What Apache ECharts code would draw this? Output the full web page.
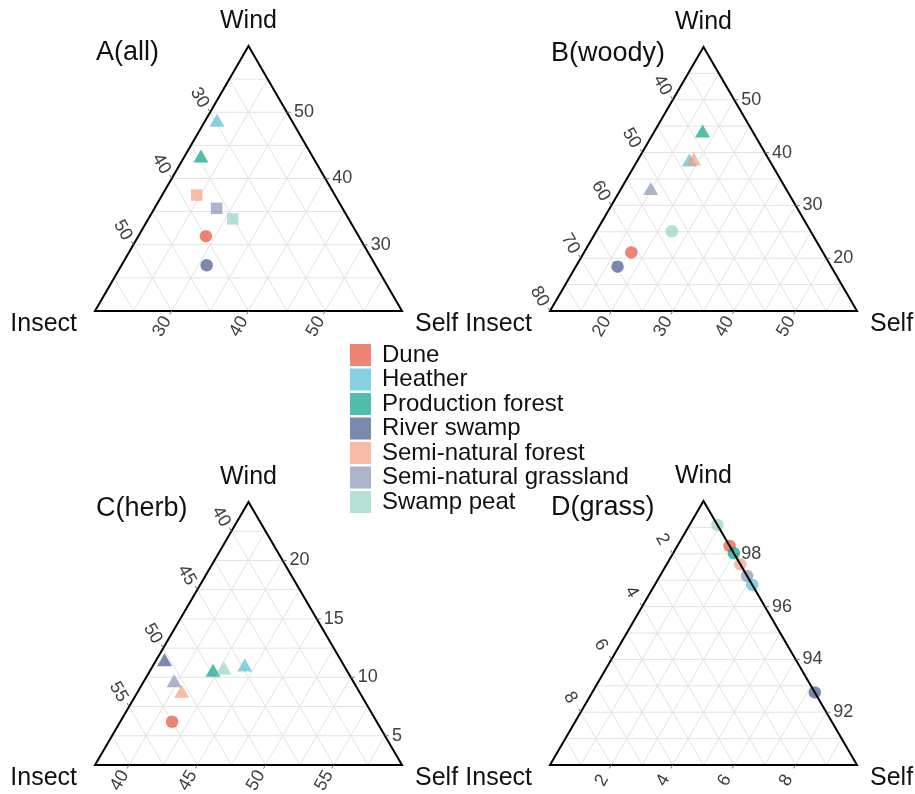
<!DOCTYPE html>
<html>
<head>
<meta charset="utf-8">
<script src="https://cdn.jsdelivr.net/npm/echarts@6/dist/echarts.min.js"></script>
<style>
html,body{margin:0;padding:0;background:#fff;}
#c{width:915px;height:794px;}
</style>
</head>
<body>
<div id="c"></div>
<script>
// ---------------- data ----------------
const habitats = ["Dune","Heather","Production forest","River swamp","Semi-natural forest","Semi-natural grassland","Swamp peat"];
const habitatColors = ["#E64B35","#4DBBD5","#00A087","#3C5488","#F39B7F","#8491B4","#91D1C2"];

// A(all)  : Wind / Insect / Self (%), one value per habitat
const windA   = [31.3, 48.8, 43.4, 26.9, 37.5, 35.5, 33.9];
const insectA = [39.9, 29.7, 34.5, 42.0, 38.0, 36.4, 35.1];
const selfA   = [28.8, 21.5, 22.1, 31.1, 24.5, 28.1, 31.0];
const shapeA  = ["circle","triangle","triangle","circle","rect","rect","rect"];
const limitsA = [20, 20, 20, 40];           // wind min, insect min, self min, span
const windTicksA = [30, 40, 50];
const insectTicksA = [30, 40, 50];
const selfTicksA = [30, 40, 50];

// B(woody)
const windB   = [21.1, 38.6, 44.1, 18.4, 38.8, 33.2, 25.1];
const insectB = [61.2, 43.0, 38.1, 64.8, 42.2, 52.0, 52.6];
const selfB   = [17.7, 18.4, 17.8, 16.8, 19.0, 14.8, 22.3];
const shapeB  = ["circle","triangle","triangle","circle","triangle","triangle","circle"];
const limitsB = [10, 30, 10, 50];
const windTicksB = [20, 30, 40, 50];
const insectTicksB = [40, 50, 60, 70, 80];
const selfTicksB = [20, 30, 40, 50];

// C(herb)
const windC   = [6.2, 11.05, 10.6, 11.5, 8.8, 9.7, 10.8];
const insectC = [52.5, 44.75, 47.3, 50.4, 50.5, 50.6, 46.4];
const selfC   = [41.3, 44.2, 42.1, 38.1, 40.7, 39.7, 42.8];
const shapeC  = ["circle","triangle","triangle","triangle","triangle","triangle","triangle"];
const limitsC = [2.5, 37.5, 37.5, 22.5];
const windTicksC = [5, 10, 15, 20];
const insectTicksC = [40, 45, 50, 55];
const selfTicksC = [40, 45, 50, 55];

// D(grass)
const windD   = [98.30, 96.82, 98.02, 92.75, 97.60, 97.16, 99.09];
const insectD = [0.0, 0.0, 0.0, 0.0, 0.0, 0.0, 0.0];
const selfD   = [1.70, 3.18, 1.98, 7.25, 2.40, 2.84, 0.91];
const shapeD  = ["circle","circle","circle","circle","circle","circle","circle"];
const limitsD = [90, 0, 0, 10];
const windTicksD = [92, 94, 96, 98];
const insectTicksD = [2, 4, 6, 8];
const selfTicksD = [2, 4, 6, 8];

// ---------------- layout / style ----------------
const FONT = '"Liberation Sans", Arial, Helvetica, sans-serif';
const panels = [
  {title:"A(all)",   wind:windA, insect:insectA, self:selfA, shape:shapeA, lim:limitsA, step:5,   wt:windTicksA, it:insectTicksA, st:selfTicksA, box:[95,46,307,265]},
  {title:"B(woody)", wind:windB, insect:insectB, self:selfB, shape:shapeB, lim:limitsB, step:5,   wt:windTicksB, it:insectTicksB, st:selfTicksB, box:[550,47,307,264]},
  {title:"C(herb)",  wind:windC, insect:insectC, self:selfC, shape:shapeC, lim:limitsC, step:2.5, wt:windTicksC, it:insectTicksC, st:selfTicksC, box:[95,502,307,263]},
  {title:"D(grass)", wind:windD, insect:insectD, self:selfD, shape:shapeD, lim:limitsD, step:1,   wt:windTicksD, it:insectTicksD, st:selfTicksD, box:[550,501,307,264]}
];

function hexA(hex, a){
  const n = parseInt(hex.slice(1),16);
  return 'rgba(' + ((n>>16)&255) + ',' + ((n>>8)&255) + ',' + (n&255) + ',' + a + ')';
}

// ternary -> normalized cartesian (x in [0,1], y in [0,1])
function ternXY(w, ins, s, lim){
  let t = (w - lim[0]) / lim[3], l = (ins - lim[1]) / lim[3], r = (s - lim[2]) / lim[3];
  const sum = t + l + r; t /= sum; r /= sum;
  return [r + t / 2, t];
}

function gridRender(p){
  return function(params, api){
    const ch = [];
    const L = p.lim, R = L[3];
    const st = {stroke:'#e2e2e2', lineWidth:1};
    const seg = (a, b) => {
      const A = api.coord(a), B = api.coord(b);
      ch.push({type:'line', shape:{x1:A[0], y1:A[1], x2:B[0], y2:B[1]}, style:st});
    };
    const n = Math.round(R / p.step);
    for (let k = 1; k < n; k++) {
      const f = k * p.step / R;
      seg([f/2, f], [1 - f/2, f]);               // constant wind
      seg([1 - f, 0], [(1 - f)/2, 1 - f]);       // constant insect
      seg([f, 0], [f + (1 - f)/2, 1 - f]);       // constant self
    }
    return {type:'group', children:ch};
  };
}

function frameRender(p){
  return function(params, api){
    const ch = [];
    const L = p.lim, R = L[3];
    const T = api.coord([0.5, 1]), A = api.coord([0, 0]), B = api.coord([1, 0]);
    ch.push({type:'polygon', shape:{points:[T, A, B]}, style:{fill:'none', stroke:'#000', lineWidth:2, lineJoin:'miter'}});
    const tick = (P, d) => ch.push({type:'line', shape:{x1:P[0], y1:P[1], x2:P[0] + d[0]*4, y2:P[1] + d[1]*4}, style:{stroke:'#777', lineWidth:1}});
    const txt = (s, x, y, size, align, color, rot) => ch.push({
      type:'text', x:x, y:y, rotation:rot || 0,
      style:{text:String(s), x:0, y:0, fontSize:size, fontFamily:FONT, fill:color, align:align, verticalAlign:'middle'}
    });
    p.wt.forEach(v => {
      const f = (v - L[0]) / R; const P = api.coord([1 - f/2, f]);
      tick(P, [1, 0]); txt(v, P[0] + 7, P[1], 18, 'left', '#404040', 0);
    });
    p.it.forEach(v => {
      const f = (v - L[1]) / R; const P = api.coord([(1 - f)/2, 1 - f]);
      tick(P, [-0.5, -0.866]); txt(v, P[0] - 10.5, P[1] - 14.5, 18, 'center', '#404040', -Math.PI/3);
    });
    p.st.forEach(v => {
      const f = (v - L[2]) / R; const P = api.coord([f, 0]);
      tick(P, [-0.5, 0.866]); txt(v, P[0] - 9.5, P[1] + 15.5, 18, 'center', '#404040', Math.PI/3);
    });
    txt('Wind', T[0], T[1] - 24.5, 25, 'center', '#111');
    txt('Insect', A[0] - 18, A[1] + 13, 25, 'right', '#111');
    txt('Self', B[0] + 13, B[1] + 13, 25, 'left', '#111');
    txt(p.title, A[0] + 1, T[1] + 7, 27, 'left', '#111');
    return {type:'group', children:ch};
  };
}

const grids = [], xAxes = [], yAxes = [], series = [];
panels.forEach((p, k) => {
  const b = p.box;
  grids.push({left:b[0], top:b[1], width:b[2], height:b[3], containLabel:false});
  xAxes.push({gridIndex:k, type:'value', min:0, max:1, show:false});
  yAxes.push({gridIndex:k, type:'value', min:0, max:1, show:false});
  series.push({type:'custom', xAxisIndex:k, yAxisIndex:k, z:1, silent:true, clip:false, data:[[0,0]], renderItem:gridRender(p)});
  habitats.forEach((h, j) => {
    const sym = p.shape[j];
    series.push({
      type:'scatter', name:h, xAxisIndex:k, yAxisIndex:k, z:2, silent:true,
      symbol:sym,
      symbolSize: sym === 'triangle' ? [15, 13] : (sym === 'rect' ? 11.5 : 12.5),
      itemStyle:{color:hexA(habitatColors[j], 0.85)},
      data:[ternXY(p.wind[j], p.insect[j], p.self[j], p.lim)]
    });
  });
  series.push({type:'custom', xAxisIndex:k, yAxisIndex:k, z:3, silent:true, clip:false, data:[[0,0]], renderItem:frameRender(p)});
});

const chart = echarts.init(document.getElementById('c'), null, {renderer:'canvas'});
chart.setOption({
  animation:false,
  backgroundColor:'#fff',
  textStyle:{fontFamily:FONT},
  grid:grids, xAxis:xAxes, yAxis:yAxes,
  legend:{
    data:habitats, orient:'vertical', left:350, top:343, padding:0,
    icon:'rect', itemWidth:21, itemHeight:22, itemGap:0.5, selectedMode:false,
    textStyle:{fontSize:24, lineHeight:22, color:'#111', fontFamily:FONT, padding:[0,0,0,6]}
  },
  series:series
});
</script>
</body>
</html>
